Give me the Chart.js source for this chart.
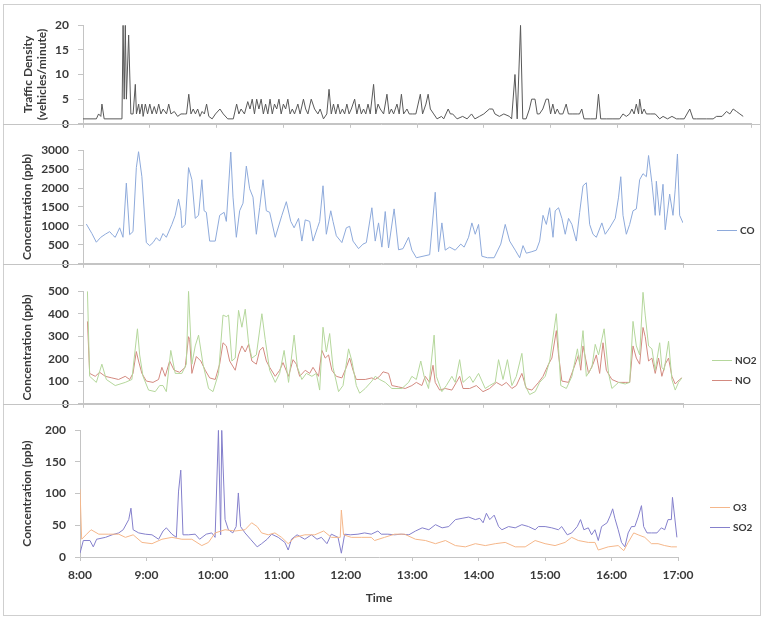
<!DOCTYPE html>
<html>
<head>
<meta charset="utf-8">
<script src="https://cdn.jsdelivr.net/npm/chart.js@4.4.1/dist/chart.umd.min.js"></script>
<style>
  body { margin: 0; background: #fff; }
  #wrap { position: relative; width: 764px; height: 618px; }
  #frame { position: absolute; left: 3px; top: 4px; width: 758px; height: 612px; border: 1px solid #cfcfcf; box-sizing: border-box; }
  canvas { position: absolute; left: 0; }
</style>
</head>
<body>
<div id="wrap">
  <div id="frame"></div>
  <canvas id="trafficChart" style="top:9px" width="764" height="131"></canvas>
  <canvas id="coChart" style="top:134px" width="764" height="146"></canvas>
  <canvas id="noxChart" style="top:275px" width="764" height="145"></canvas>
  <canvas id="o3so2Chart" style="top:414px" width="764" height="193"></canvas>
</div>
<script>
// time is minutes after 8:00
const hourLabels = ["8:00", "9:00", "10:00", "11:00", "12:00", "13:00", "14:00", "15:00", "16:00", "17:00", "18:00"];

const traffic = [[0,1],[12,1],[14,2],[16,1.5],[17,4],[19,1],[35,1],[36,20],[37,5],[38,20],[39,5],[41,18],[43,2],[45,2],[47,8],[48,2],[50,4],[51,2],[53,4],[54,1.5],[56,4],[58,2],[60,4],[62,2],[64,3.5],[66,2],[68,4],[70,2],[72,3],[75,2],[77,4],[79,2],[82,2.5],[85,1.5],[88,2],[91,2],[93,2],[95,6],[97,2],[99,3],[101,2],[103,3],[105,1.5],[107,2.5],[109,2],[111,4],[113,1.5],[116,1],[119,2],[123,3],[126,2],[130,1],[135,1],[138,4],[140,2],[142,3],[145,2],[148,4.5],[150,3],[152,5],[154,2],[156,5],[158,3],[160,5],[162,2],[164,4],[166,2],[168,5],[170,2],[172,4],[174,3],[176,5],[178,2],[180,4],[182,3],[184,5],[186,2],[188,3],[190,2],[193,4],[195,2],[198,5],[200,3],[202,2],[205,5],[208,3],[211,2],[213,3],[216,1],[219,2],[221,7],[223,2],[225,4],[227,2],[229,4],[231,2],[233,3],[235,2],[237,4],[239,2],[241,3],[244,5],[246,2],[248,4],[250,2],[252,3],[254,2],[256,4],[258,2],[261,8],[263,2],[265,4],[267,3],[270,2],[273,6],[275,2],[277,3],[279,2],[282,4],[284,2],[286,6],[288,2],[291,3],[293,2],[296,2],[299,2],[303,6],[305,2],[308,4],[310,6],[312,3],[315,2],[318,1],[322,1.5],[324,1],[328,3],[330,2],[332,2],[336,1],[341,1.5],[345,1],[349,2],[352,1],[356,1.5],[360,2],[365,3],[368,3],[370,2],[374,1.5],[378,2],[383,1.5],[385,1],[388,10],[390,1],[393,20],[395,1],[398,1],[401,3],[403,5],[406,5],[408,2],[410,2],[413,3],[416,5],[418,5],[420,2],[422,4],[424,2],[426,3],[428,2],[431,2],[434,4],[436,2],[440,2],[444,2],[446,2],[448,3],[450,1],[456,1],[461,1],[463,6],[465,1],[470,1],[476,1],[482,1],[485,2],[488,1.5],[491,2],[493,3],[495,2],[497,4],[499,2],[500,5],[502,2],[504,3],[506,2],[510,2],[514,2],[518,1],[521,1.5],[525,1],[529,1.5],[533,1],[536,1],[540,1],[545,3],[548,1],[551,1],[560,1],[566,1],[569,1.5],[574,1.5],[578,2.5],[581,2],[584,3],[587,2.5],[590,2],[593,1.5]];

const co = [[3,1050],[8,800],[12,570],[16,700],[20,780],[24,850],[27,750],[29,700],[33,950],[36,700],[39,2130],[42,770],[45,850],[48,2540],[50,2960],[53,2300],[57,560],[60,480],[63,560],[66,690],[69,600],[72,800],[75,700],[80,1040],[83,1280],[86,1710],[88,1400],[89,950],[92,1040],[95,2540],[98,2220],[101,1200],[104,1280],[107,2220],[109,1400],[111,1360],[114,600],[119,600],[123,1280],[127,1360],[129,1120],[133,2950],[135,1760],[138,700],[141,1400],[144,1600],[147,2580],[150,1980],[153,1760],[156,780],[159,1480],[162,2220],[165,1400],[168,1360],[173,700],[179,1280],[183,1640],[187,1120],[190,950],[194,1200],[197,600],[200,1160],[204,1120],[207,600],[211,950],[213,1120],[216,2060],[219,780],[223,1400],[225,1120],[228,740],[233,560],[237,950],[240,990],[243,600],[248,400],[252,520],[255,560],[260,1480],[263,600],[266,1080],[269,440],[272,1380],[275,420],[280,1450],[284,370],[288,400],[293,700],[296,360],[300,160],[306,200],[312,240],[317,1890],[320,320],[323,1080],[326,360],[330,440],[335,360],[340,520],[343,440],[347,700],[350,1080],[353,780],[356,1040],[359,200],[364,160],[370,160],[376,520],[380,1040],[384,600],[389,360],[393,160],[396,480],[399,280],[404,320],[408,360],[411,600],[414,1280],[417,1040],[420,1480],[423,700],[425,1400],[428,1480],[431,1200],[434,780],[437,1200],[440,1040],[444,600],[447,1360],[450,2060],[453,2140],[456,1040],[459,780],[462,700],[467,1080],[470,780],[474,950],[479,1200],[482,1760],[484,2300],[486,1280],[489,780],[492,1040],[495,1400],[498,1450],[501,2220],[504,2380],[507,2300],[509,2860],[512,2140],[515,1280],[516,2180],[519,1280],[522,2100],[524,900],[528,1840],[531,1280],[533,1970],[535,2900],[537,1280],[540,1080]];

const no2 = [[4,500],[6,122],[12,95],[17,176],[21,108],[29,81],[38,95],[44,108],[49,333],[51,217],[54,122],[59,61],[65,54],[69,81],[72,81],[75,54],[79,237],[83,135],[89,135],[93,176],[95,500],[98,176],[101,257],[104,305],[108,176],[113,68],[117,54],[122,135],[126,394],[129,387],[131,394],[134,190],[137,203],[140,415],[143,340],[146,420],[149,271],[152,203],[156,217],[161,400],[164,285],[168,149],[173,95],[177,135],[181,237],[185,95],[190,305],[193,162],[197,108],[201,135],[206,122],[210,135],[213,61],[216,340],[219,230],[222,312],[225,162],[230,54],[234,81],[239,244],[242,190],[246,81],[249,47],[254,68],[260,101],[263,122],[267,108],[272,95],[278,68],[287,68],[293,95],[296,122],[300,108],[304,190],[307,122],[311,68],[316,305],[318,122],[323,54],[327,81],[332,122],[335,95],[339,196],[342,95],[348,122],[351,95],[356,135],[362,68],[366,81],[371,95],[374,196],[378,108],[382,196],[386,81],[390,122],[395,224],[398,81],[402,41],[407,54],[411,95],[416,122],[420,190],[426,400],[428,244],[430,81],[435,68],[440,122],[445,244],[447,176],[450,325],[453,122],[458,162],[461,264],[464,217],[469,333],[473,135],[476,68],[482,95],[488,88],[492,95],[495,366],[498,257],[501,217],[504,495],[506,394],[509,257],[512,244],[515,149],[519,271],[521,162],[523,149],[527,278],[530,108],[533,61],[536,95],[539,115]];

const no = [[4,366],[6,135],[11,122],[15,140],[20,122],[26,115],[32,108],[38,122],[42,108],[45,135],[48,232],[50,190],[53,135],[57,101],[63,95],[68,108],[71,162],[74,122],[78,190],[82,149],[87,140],[92,162],[95,298],[96,285],[98,135],[102,210],[106,190],[110,149],[114,115],[119,108],[123,176],[126,271],[129,257],[132,190],[137,149],[140,217],[143,257],[146,230],[149,264],[152,190],[156,176],[159,237],[162,251],[165,190],[168,162],[173,122],[177,149],[180,183],[185,122],[189,196],[192,176],[195,122],[200,149],[204,135],[207,162],[212,122],[215,237],[218,203],[221,217],[224,149],[228,122],[233,115],[237,162],[240,203],[243,149],[246,108],[254,108],[260,115],[263,108],[267,122],[270,142],[275,135],[278,81],[284,75],[290,68],[296,81],[300,95],[305,81],[308,122],[312,95],[315,171],[317,95],[321,61],[326,68],[332,61],[336,95],[339,122],[342,68],[348,68],[354,81],[360,54],[366,68],[372,95],[377,81],[381,95],[386,68],[390,81],[395,135],[399,68],[404,61],[410,95],[414,122],[419,176],[422,203],[426,325],[428,217],[431,101],[437,95],[441,149],[446,217],[448,149],[450,257],[455,135],[459,176],[462,217],[465,135],[468,271],[471,149],[476,108],[482,95],[488,95],[492,95],[495,257],[498,203],[501,176],[504,339],[506,298],[509,190],[512,203],[515,135],[518,203],[521,122],[524,176],[527,203],[530,122],[533,88],[537,108],[539,115]];

const o3 = [[0,107],[1.5,28],[6,36],[10,43],[17,36],[26,36],[35,36],[41,31],[48,35],[56,23],[65,21],[74,28],[83,31],[92,28],[101,28],[110,18],[116,23],[122,38],[131,43],[140,41],[149,43],[155,54],[160,48],[164,38],[170,35],[176,38],[182,31],[188,21],[194,31],[203,35],[212,35],[220,41],[227,31],[235,31],[236,74],[238,35],[245,31],[254,31],[263,31],[266,26],[275,31],[284,36],[293,36],[303,28],[312,26],[321,21],[330,26],[339,18],[348,16],[357,21],[366,18],[375,21],[384,23],[393,16],[402,16],[411,26],[420,21],[429,18],[438,23],[444,31],[450,26],[459,23],[465,23],[468,11],[477,16],[486,18],[491,10],[495,23],[500,38],[504,35],[510,31],[516,21],[522,21],[528,18],[534,16],[539,16]];

const so2 = [[0,6],[3,26],[9,26],[12,16],[15,28],[23,31],[29,35],[35,38],[39,43],[44,59],[46,77],[48,43],[53,38],[59,36],[65,35],[71,28],[75,41],[78,46],[83,36],[87,31],[89,104],[91,137],[93,35],[98,35],[104,36],[108,28],[114,36],[119,38],[122,31],[125,200],[127,35],[128,200],[131,59],[134,43],[138,38],[141,48],[143,101],[145,48],[149,38],[154,28],[160,16],[164,21],[169,28],[173,36],[179,31],[185,23],[188,11],[191,28],[196,35],[203,28],[209,35],[214,28],[218,31],[223,21],[227,36],[233,31],[236,6],[239,36],[244,35],[251,36],[257,38],[263,36],[269,41],[272,36],[278,36],[284,35],[290,36],[297,35],[303,41],[309,46],[315,43],[321,51],[327,46],[333,48],[339,59],[345,61],[351,63],[357,59],[361,61],[364,54],[367,69],[370,59],[374,66],[378,48],[381,43],[387,48],[393,46],[399,51],[405,48],[411,43],[414,48],[420,48],[426,46],[432,43],[435,48],[440,35],[444,38],[449,48],[452,59],[455,43],[459,46],[462,35],[465,43],[468,26],[471,48],[476,54],[479,66],[481,76],[483,61],[486,43],[489,23],[492,16],[495,38],[498,48],[501,48],[504,63],[507,81],[509,48],[512,38],[516,38],[521,38],[525,46],[528,43],[531,59],[534,59],[535,94],[537,63],[539,31]];

const FONT = "Lato, 'Open Sans', sans-serif";
const AXIS_GREY = "#c4c4c4";
const TEXT = "#3a3a3a";

const toPoints = (pairs) => pairs.map(([t, v]) => ({ x: t, y: v }));

// grey line running across the whole frame at the zero level of a panel
const baseLine = {
  id: "baseLine",
  beforeDatasetsDraw(chart, args, opts) {
    if (!opts.show) return;
    const ctx = chart.ctx;
    const y = Math.round(chart.scales.y.getPixelForValue(0)) + 0.5;
    ctx.save();
    ctx.strokeStyle = AXIS_GREY;
    ctx.lineWidth = 1;
    ctx.beginPath();
    ctx.moveTo(3, y);
    ctx.lineTo(760, y);
    ctx.stroke();
    ctx.restore();
  },
};

// small legend to the right of the plot, like the Excel original
const sideLegend = {
  id: "sideLegend",
  afterDraw(chart, args, opts) {
    if (!opts.show) return;
    const { ctx, chartArea } = chart;
    const items = chart.data.datasets;
    const mid = (chartArea.top + chartArea.bottom) / 2 + 23;
    const y0 = mid - ((items.length - 1) * 20) / 2;
    ctx.save();
    ctx.font = "bold 10px " + FONT;
    ctx.textBaseline = "middle";
    items.forEach((ds, i) => {
      const y = Math.round(y0 + i * 20) + 0.5;
      ctx.strokeStyle = ds.borderColor;
      ctx.lineWidth = 1;
      ctx.beginPath();
      ctx.moveTo(opts.x, y);
      ctx.lineTo(opts.x + 20, y);
      ctx.stroke();
      ctx.fillStyle = TEXT;
      ctx.fillText(ds.label, opts.x + 23, y);
    });
    ctx.restore();
  },
};

const makePanel = (id, p) => {
  new Chart(document.getElementById(id), {
    type: "line",
    data: {
      datasets: p.series.map((s) => ({
        label: s.label,
        data: toPoints(s.data),
        borderColor: s.color,
        borderWidth: 1,
        pointRadius: 0,
        tension: 0,
      })),
    },
    options: {
      responsive: false,
      animation: false,
      events: [],
      layout: { padding: { left: 0, right: p.rightPad, top: 10, bottom: 0 } },
      plugins: {
        legend: { display: false },
        tooltip: { enabled: false },
        baseLine: { show: p.baseLine },
        sideLegend: { show: p.legendX !== undefined, x: p.legendX },
      },
      scales: {
        x: {
          type: "linear",
          min: 0,
          max: p.xMax,
          ticks: {
            display: p.showTime,
            stepSize: 60,
            autoSkip: false,
            maxRotation: 0,
            padding: 7,
            color: TEXT,
            font: { family: FONT, size: 12, weight: "bold" },
            callback: (v) => hourLabels[v / 60] ?? "",
          },
          grid: { drawOnChartArea: false, drawTicks: true, tickLength: 4, color: AXIS_GREY },
          border: { color: AXIS_GREY },
          title: {
            display: p.showTime,
            text: "Time",
            color: TEXT,
            font: { family: FONT, size: 12, weight: "bold" },
            padding: { top: 0, bottom: 2 },
          },
          afterFit: (s) => {
            s.height = p.bottomH;
          },
        },
        y: {
          min: 0,
          max: p.yMax,
          ticks: {
            stepSize: p.yStep,
            padding: 9,
            color: TEXT,
            font: { family: FONT, size: 12, weight: "bold" },
            callback: (v) => String(v),
          },
          grid: { drawOnChartArea: false, drawTicks: true, tickLength: 5, color: AXIS_GREY },
          border: { color: AXIS_GREY },
          title: {
            display: true,
            text: p.yTitle,
            color: TEXT,
            font: { family: FONT, size: 12, weight: "bold" },
            padding: { top: p.titlePad, bottom: 0 },
          },
          afterFit: (s) => {
            s.width = p.leftW;
          },
        },
      },
    },
    plugins: [baseLine, sideLegend],
  });
};

makePanel("trafficChart", {
  series: [{ label: "Traffic", data: traffic, color: "#595959" }],
  xMax: 600, yMax: 20, yStep: 5,
  yTitle: ["Traffic Density", "(vehicles/minute)"], titlePad: 21,
  leftW: 83, rightPad: 13, bottomH: 12, showTime: false, baseLine: true,
});

makePanel("coChart", {
  series: [{ label: "CO", data: co, color: "#8eaadb" }],
  xMax: 540, yMax: 3000, yStep: 500,
  yTitle: "Concentration (ppb)", titlePad: 20,
  leftW: 83, rightPad: 81, bottomH: 12, showTime: false, baseLine: true, legendX: 717,
});

makePanel("noxChart", {
  series: [
    { label: "NO2", data: no2, color: "#b5d79c" },
    { label: "NO", data: no, color: "#d38a80" },
  ],
  xMax: 540, yMax: 500, yStep: 100,
  yTitle: "Concentration (ppb)", titlePad: 20,
  leftW: 83, rightPad: 81, bottomH: 12, showTime: false, baseLine: true, legendX: 712,
});

makePanel("o3so2Chart", {
  series: [
    { label: "O3", data: o3, color: "#f5b78a" },
    { label: "SO2", data: so2, color: "#8580cc" },
  ],
  xMax: 540, yMax: 200, yStep: 50,
  yTitle: "Concentration (ppb)", titlePad: 20,
  leftW: 80, rightPad: 86, bottomH: 50, showTime: true, baseLine: false, legendX: 710,
});
</script>
</body>
</html>
